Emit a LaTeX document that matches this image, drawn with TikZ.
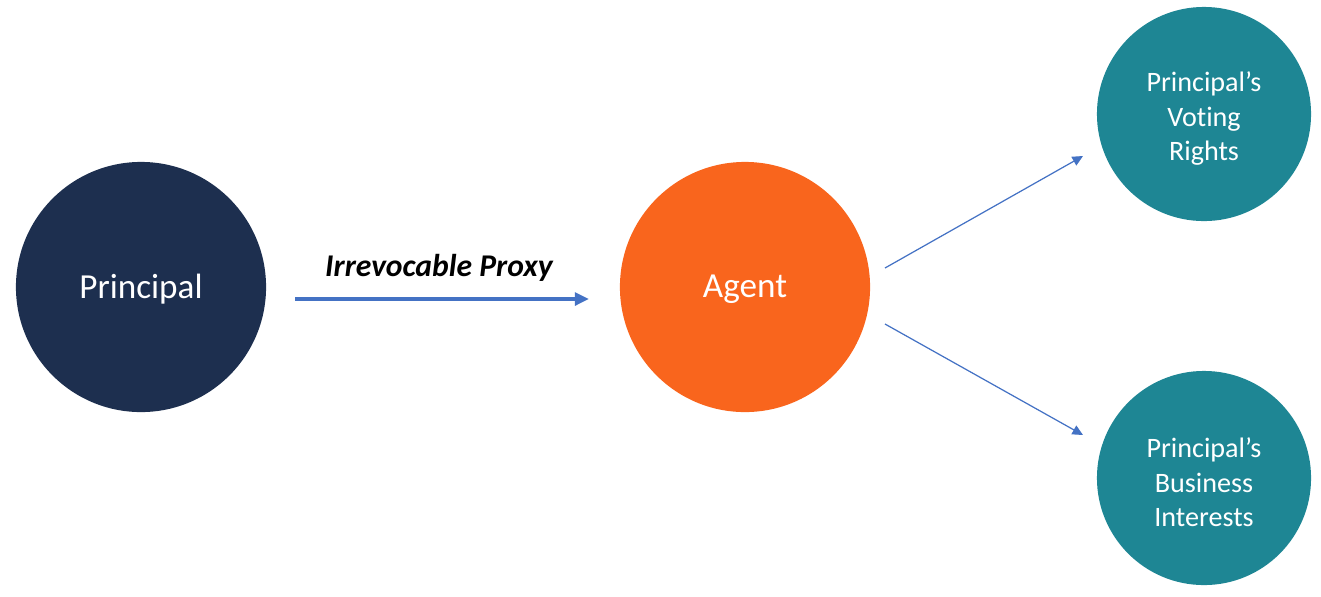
\documentclass[tikz,border=0pt]{standalone}
\usepackage{fontspec}
\setmainfont[RawFeature={-liga;-clig}]{Carlito}
\usetikzlibrary{arrows.meta}
\definecolor{navy}{HTML}{1D2F4F}
\definecolor{orng}{HTML}{F9651D}
\definecolor{teal2}{HTML}{1E8694}
\definecolor{arrblue}{HTML}{4472C4}
\tikzset{
  bigcirc/.style={circle, minimum size=2.5cm, inner sep=0pt},
  bigtext/.style={text=white, font=\fontsize{10}{12}\selectfont, yshift=-0.025cm},
  smallcirc/.style={circle, minimum size=2.14cm, inner sep=0pt, fill=teal2},
  smalltext/.style={text=white, align=center, font=\fontsize{8}{9.8}\selectfont, yshift=-0.045cm},
  mainarrow/.style={draw=arrblue, line width=1.25pt, -{Triangle[length=4pt,width=3.6pt]}},
  thinarrow/.style={draw=arrblue, line width=0.35pt, -{Triangle[length=3pt,width=2.8pt]}},
  lbl/.style={font=\fontsize{9}{11}\selectfont\bfseries\itshape}
}
\begin{document}
\begin{tikzpicture}[x=0.01cm,y=-0.01cm]
\useasboundingbox (0,0) rectangle (1321,596);
\node[bigcirc, fill=navy, label={[bigtext]center:Principal}] (principal) at (141,287) {};
\node[bigcirc, fill=orng, label={[bigtext]center:Agent}] (agent) at (745,287) {};
\node[smallcirc, label={[smalltext]center:Principal’s\\Voting\\Rights}] (voting) at (1204,114) {};
\node[smallcirc, label={[smalltext]center:Principal’s\\Business\\Interests}] (business) at (1204,478) {};
\coordinate (m1) at (295,299);
\coordinate (m2) at (589,299);
\coordinate (u1) at (885,268);
\coordinate (u2) at (1083,156);
\coordinate (d1) at (885,324);
\coordinate (d2) at (1083,435);
\draw[mainarrow] (m1) -- (m2);
\node[lbl] (proxy) at (439,268) {Irrevocable Proxy};
\draw[thinarrow] (u1) -- (u2);
\draw[thinarrow] (d1) -- (d2);
\end{tikzpicture}
\end{document}
